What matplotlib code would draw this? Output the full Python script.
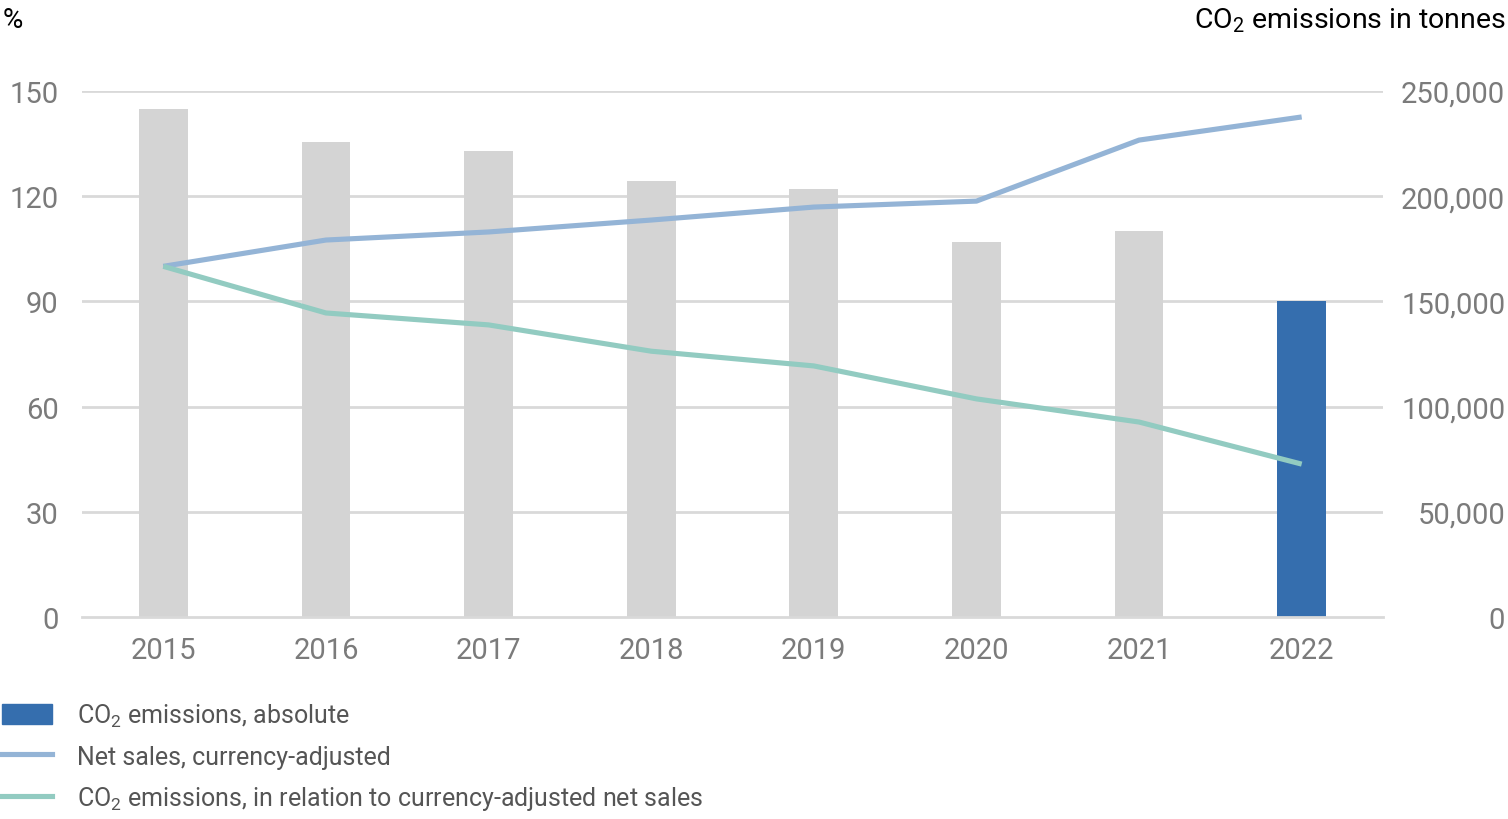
import matplotlib
matplotlib.use("Agg")
import matplotlib.pyplot as plt
from matplotlib.patches import Patch
from matplotlib.lines import Line2D

plt.rcParams['font.family'] = ['Roboto', 'DejaVu Sans']
plt.rcParams['mathtext.fontset'] = 'custom'
plt.rcParams['mathtext.rm'] = 'Roboto'
plt.rcParams['mathtext.it'] = 'Roboto'

years = ["2015", "2016", "2017", "2018", "2019", "2020", "2021", "2022"]
co2_abs_tonnes = [241500, 225700, 221400, 207200, 203400, 178200, 183400, 150200]
net_sales_pct = [100, 107.5, 109.8, 113.2, 116.9, 118.6, 136.0, 142.6]
co2_rel_pct = [100, 86.7, 83.3, 75.8, 71.6, 62.2, 55.6, 43.6]

left_ticks = [0, 30, 60, 90, 120, 150]
right_ticks = [0, 50000, 100000, 150000, 200000, 250000]

bar_gray = "#d4d4d4"
bar_blue = "#356eae"
c_sales = "#94b4d6"
c_rel = "#92cbc1"
tick_col = "#7b7b7b"
grid_col = "#d9d9d9"

fig = plt.figure(figsize=(15.08, 8.2), dpi=100)
ax = fig.add_axes([82/1508, (820-618)/820, (1383-82)/1508, (618-92)/820])
ax2 = ax.twinx()

x = list(range(len(years)))
colors = [bar_gray]*(len(years)-1) + [bar_blue]
ax2.bar(x, co2_abs_tonnes, width=0.3, color=colors, zorder=2)
ax2.set_ylim(0, 250000)
ax2.set_yticks(right_ticks)
ax2.set_yticklabels([f"{v:,}" for v in right_ticks])

ax.set_ylim(0, 150)
ax.set_xlim(-0.5, len(years)-0.5)
ax.set_yticks(left_ticks)
ax.set_xticks(x)
ax.set_xticklabels(years)
for v in left_ticks[1:]:
    ax.axhline(v, color=grid_col, lw=2, zorder=0)

ax3 = ax.twinx()
ax3.set_ylim(0, 150)
ax3.plot(x, net_sales_pct, color=c_sales, lw=3.7, solid_capstyle='butt', zorder=3)
ax3.plot(x, co2_rel_pct, color=c_rel, lw=3.7, solid_capstyle='butt', zorder=3)
ax3.set_yticks([])
for s in ax3.spines.values():
    s.set_visible(False)
ax3.patch.set_visible(False)

ax.set_zorder(0)
ax2.set_zorder(1)
ax3.set_zorder(2)
ax2.patch.set_visible(False)

for a in (ax, ax2):
    for s in a.spines.values():
        s.set_visible(False)
ax2.spines['bottom'].set_visible(True)
ax2.spines['bottom'].set_color(grid_col)
ax2.spines['bottom'].set_linewidth(2)

ax.tick_params(axis='y', length=0, labelsize=21, labelcolor=tick_col, pad=17)
ax.tick_params(axis='x', length=0, labelsize=21, labelcolor=tick_col, pad=14)
ax2.tick_params(axis='y', length=0, labelsize=21, labelcolor=tick_col, pad=88)
for t in ax2.get_yticklabels():
    t.set_ha('right')

fig.text(3/1508, 1-20/820, "%", fontsize=20, color="black", ha='left', va='center')
fig.text(1506/1508, 1-21/820, "CO$_\\mathrm{2}$ emissions in tonnes", fontsize=20.5,
         color="black", ha='right', va='center')

handles = [Patch(color=bar_blue),
           Line2D([0], [0], color=c_sales, lw=3.7),
           Line2D([0], [0], color=c_rel, lw=3.7)]
labels = ["CO$_\\mathrm{2}$ emissions, absolute",
          "Net sales, currency-adjusted",
          "CO$_\\mathrm{2}$ emissions, in relation to currency-adjusted net sales"]
leg = fig.legend(handles, labels, loc='upper left', bbox_to_anchor=(2/1508, 1-703/820),
                 frameon=False, fontsize=18, handlelength=2.0, handleheight=0.85,
                 handletextpad=1.0, labelspacing=0.62, borderaxespad=0, borderpad=0)
for t in leg.get_texts():
    t.set_color("#555555")

fig.savefig("out.png", dpi=100)
